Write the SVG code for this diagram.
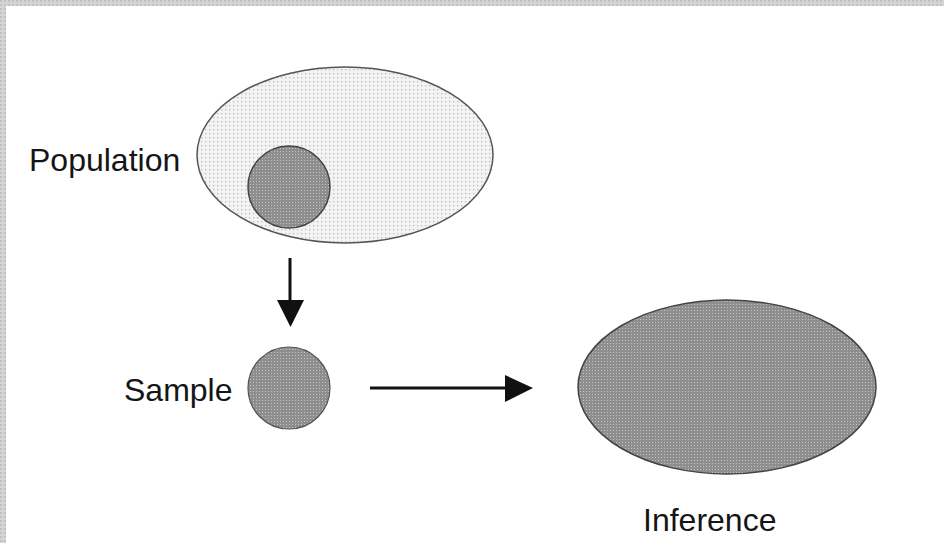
<svg xmlns="http://www.w3.org/2000/svg" width="944" height="543" viewBox="0 0 944 543">
<style>
.lbl{font-family:"Liberation Sans",Arial,sans-serif;font-size:32px;fill:#151515}
.conn{stroke:#111;stroke-width:3;fill:none}
</style>
<defs>
<pattern id="light" width="4" height="4" patternUnits="userSpaceOnUse">
<rect width="4" height="4" fill="#f3f3f3"/>
<rect x="1" y="1" width="1.3" height="1.3" fill="#bdbdbd"/>
</pattern>
<pattern id="dark" width="3" height="3" patternUnits="userSpaceOnUse">
<rect width="3" height="3" fill="#8e8e8e"/>
<rect x="1" y="1" width="1" height="1" fill="#c4c4c4"/>
</pattern>
<pattern id="border" width="4" height="4" patternUnits="userSpaceOnUse">
<rect width="4" height="4" fill="#d4d4d4"/>
<rect x="0" y="0" width="2" height="2" fill="#c2c2c2"/>
</pattern>
</defs>
<rect width="944" height="543" fill="#ffffff"/>
<rect x="0" y="0" width="944" height="6" fill="url(#border)"/>
<rect x="0" y="0" width="6" height="543" fill="url(#border)"/>
<g id="population">
<ellipse cx="345" cy="155" rx="148" ry="88" fill="url(#light)" stroke="#555" stroke-width="1.5"/>
<circle cx="289" cy="187" r="41" fill="url(#dark)" stroke="#444" stroke-width="1.5"/>
<text class="lbl" x="29" y="171">Population</text>
</g>
<g id="sample">
<circle cx="289" cy="388" r="41" fill="url(#dark)" stroke="#555" stroke-width="1.2"/>
<text class="lbl" x="124" y="401">Sample</text>
</g>
<g id="inference">
<ellipse cx="727" cy="387" rx="149" ry="87" fill="url(#dark)" stroke="#444" stroke-width="1.5"/>
<text class="lbl" x="643" y="531">Inference</text>
</g>
<g id="connectors">
<line class="conn" x1="290" y1="258" x2="290" y2="300"/>
<path d="M277,300 L304,300 L290.5,327 Z" fill="#111"/>
<line class="conn" x1="370" y1="388" x2="506" y2="388"/>
<path d="M505,375 L533,388 L505,402 Z" fill="#111"/>
</g>
</svg>
